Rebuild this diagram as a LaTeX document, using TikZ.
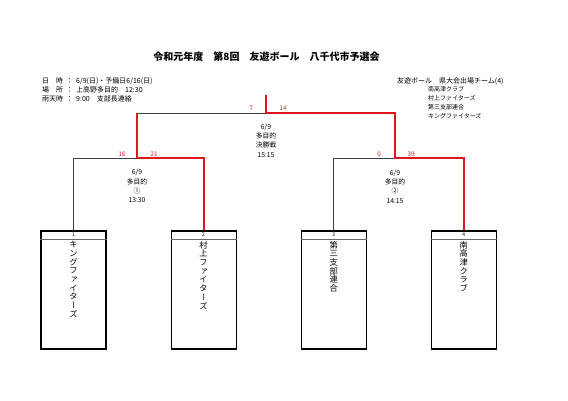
\documentclass[tikz,border=0pt]{standalone}
\usepackage{fontspec}
\usetikzlibrary{positioning}
\newfontfamily\jp{Noto Sans CJK JP}
\newfontfamily\jptate[RawFeature={+vert}]{Noto Sans CJK JP}
\definecolor{WinRed}{RGB}{222,22,30}

\begin{document}
\begin{tikzpicture}[x=1pt,y=-1pt,
  team/.style={draw,line width=1.1pt,minimum width=65pt,minimum height=118pt,inner sep=0pt},
  teamname/.style={font=\jptate\fontsize{8.3}{8.7}\selectfont,align=center,inner sep=0pt,anchor=north},
  seed/.style={font=\jp\fontsize{5}{5}\selectfont,inner sep=0pt},
  match/.style={font=\jp\fontsize{6.8}{9.3}\selectfont,align=center,inner sep=0pt},
  score/.style={font=\jp\fontsize{6.3}{6.3}\selectfont,text=WinRed,inner sep=0pt},
  lose/.style={draw=black!75,line width=0.6pt},
  win/.style={draw=WinRed,line width=2pt,line join=miter},
]
\useasboundingbox (0,0) rectangle (568,401);

% title and notes
\node[font=\jp\bfseries\fontsize{10}{12}\selectfont] (title) at (266.5,57)
  {令和元年度　第8回　友遊ボール　八千代市予選会};
\node[font=\jp\fontsize{7}{9}\selectfont,align=left,anchor=north west,inner sep=0pt] (info) at (42,77)
  {日　時\hspace{3pt}：\hspace{3pt}6/9(日)・予備日6/16(日)\\場　所\hspace{3pt}：\hspace{3pt}上高野多目的　12:30\\雨天時\hspace{3pt}：\hspace{3pt}9:00　支部長連絡};
\node[font=\jp\fontsize{7}{9}\selectfont,anchor=west,inner sep=0pt] (qual) at (397,81)
  {友遊ボール　県大会出場チーム(4)};
\node[font=\jp\fontsize{6}{9}\selectfont,align=left,anchor=north west,inner sep=0pt] (quallist) at (428,86.5)
  {南高津クラブ\\村上ファイターズ\\第三支部連合\\キングファイターズ};

% teams
\node[team] (team1) at (73.5,290) {};
\node[team,right=64pt of team1] (team2) {};
\node[team,right=64pt of team2] (team3) {};
\node[team,right=64pt of team3] (team4) {};
\foreach \i in {1,...,4}{
  \draw[black!60,line width=1pt] ([yshift=-9pt]team\i.north west) -- ([yshift=-9pt]team\i.north east);
  \node[seed] (seed\i) at ([yshift=-4.6pt]team\i.north) {\i};
}
\node[teamname] (name1) at ([yshift=-10.5pt]team1.north) {キ\\ン\\グ\\フ\\ァ\\イ\\タ\\ー\\ズ};
\node[teamname] (name2) at ([yshift=-10.5pt]team2.north) {村\\上\\フ\\ァ\\イ\\タ\\ー\\ズ};
\node[teamname] (name3) at ([yshift=-10.5pt]team3.north) {第\\三\\支\\部\\連\\合};
\node[teamname] (name4) at ([yshift=-10.5pt]team4.north) {南\\高\\津\\ク\\ラ\\ブ};

% bracket
\coordinate (m1) at (137,158);
\coordinate (m2) at (395,158);
\coordinate (fin) at (266,113);
\coordinate (champ) at (266,95);
\draw[lose] (team1.north) |- (m1);
\draw[lose] (team3.north) |- (m2);
\draw[lose] (m1 |- fin) -- (fin);
\draw[win] (team2.north) |- (m1) -- (m1 |- fin);
\draw[win] (team4.north) |- (m2) -- (m2 |- fin) -- (fin) -- (champ);

% scores
\node[score] (sc1) at (122,154) {16};
\node[score] (sc2) at (154,154) {21};
\node[score] (sc3) at (379,154) {0};
\node[score] (sc4) at (411,154) {39};
\node[score] (scf1) at (251,108.5) {7};
\node[score] (scf2) at (283,108.5) {14};

% match notes
\node[match] (g1) at (137,186) {6/9\\多目的\\①\\13:30};
\node[match] (g2) at (395,186.5) {6/9\\多目的\\②\\14:15};
\node[match] (gf) at (266,140.5) {6/9\\多目的\\決勝戦\\15:15};
\end{tikzpicture}
\end{document}
